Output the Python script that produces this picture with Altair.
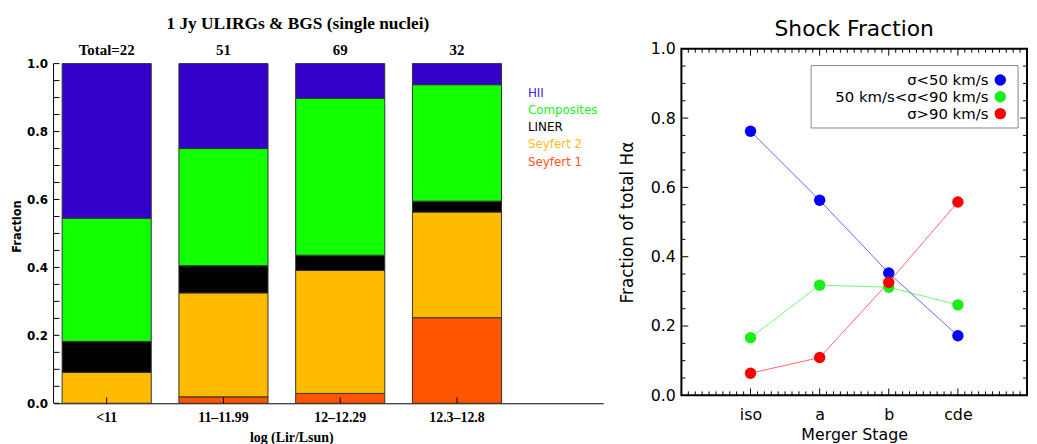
import altair as alt
import pandas as pd

# ---------------- Left panel data ----------------
bins = ["<11", "11–11.99", "12–12.29", "12.3–12.8"]
totals = ["Total=22", "51", "69", "32"]
classes = ["Seyfert 1", "Seyfert 2", "LINER", "Composites", "HII"]  # bottom -> top
class_colors = ["#FF5500", "#FFBB00", "#000000", "#11FF00", "#3300CC"]
sey1 = [0.0, 0.019, 0.029, 0.252]
sey2 = [0.091, 0.306, 0.362, 0.311]
liner = [0.091, 0.080, 0.045, 0.032]
comp = [0.363, 0.345, 0.462, 0.343]
hii = [0.455, 0.250, 0.102, 0.062]

# ---------------- Right panel data ----------------
stages = ["iso", "a", "b", "cde"]
stage_pos = [1, 2, 3, 4]
series_names = ["σ<50 km/s", "50 km/s<σ<90 km/s", "σ>90 km/s"]
series_colors = ["#0000FF", "#1AEE1A", "#FF0000"]
low_sigma = [0.762, 0.563, 0.353, 0.172]
mid_sigma = [0.166, 0.318, 0.312, 0.261]
high_sigma = [0.064, 0.109, 0.326, 0.558]

# ---------------- Left panel ----------------
LW, LH = 555, 358
L_UNIT = 343.0
LYMAX = LH / L_UNIT

rows = []
series_vals = [sey1, sey2, liner, comp, hii]
for bi, b in enumerate(bins):
    cum = 0.0
    for ci, c in enumerate(classes):
        v = series_vals[ci][bi]
        if v > 0:
            rows.append({"bin": b, "cls": c, "y0": cum, "y1": cum + v})
        cum += v
bars_df = pd.DataFrame(rows)

xscale_l = alt.Scale(domain=bins, paddingInner=0.237, paddingOuter=0.472, align=0.078)
yscale_l = alt.Scale(domain=[0, LYMAX], nice=False, zero=False)

bars = alt.Chart(bars_df).mark_bar(stroke="#333333", strokeWidth=1).encode(
    x=alt.X("bin:N", scale=xscale_l, sort=bins,
            axis=alt.Axis(title="log (Lir/Lsun)", labelAngle=0, ticks=False,
                          domainColor="black", domainWidth=1,
                          labelFont="Liberation Serif", labelFontWeight="bold",
                          labelFontSize=14, labelColor="black", labelPadding=7,
                          titleFont="Liberation Serif", titleFontWeight="bold",
                          titleFontSize=14, titleColor="black", titlePadding=7,
                          titleX=240)),
    y=alt.Y("y0:Q", scale=yscale_l,
            axis=alt.Axis(title="Fraction", domain=False, ticks=False, grid=False,
                          values=[0, 0.2, 0.4, 0.6, 0.8, 1.0], format=".1f",
                          labelFont="DejaVu Sans", labelFontWeight="bold",
                          labelFontSize=12, labelColor="black", labelPadding=6,
                          titleFont="DejaVu Sans", titleFontWeight="bold",
                          titleFontSize=11.5, titleColor="black", titlePadding=4)),
    y2="y1:Q",
    color=alt.Color("cls:N", scale=alt.Scale(domain=classes, range=class_colors), legend=None),
)

one = pd.DataFrame({"a": [0]})
yaxis_line = alt.Chart(pd.DataFrame({"y0": [0.0], "y1": [1.0]})).mark_rule(
    color="black", strokeWidth=1).encode(
    x=alt.value(0), y=alt.Y("y0:Q", scale=yscale_l), y2="y1:Q")

ltick_vals = pd.DataFrame({"y0": [i / 20 for i in range(21)]})
ltick = alt.Chart(ltick_vals).mark_rule(color="black", strokeWidth=1).encode(
    y=alt.Y("y0:Q", scale=yscale_l), x=alt.value(0), x2=alt.value(6))

bin_df = pd.DataFrame({"bin": bins, "total": totals})
xtick = alt.Chart(bin_df).mark_rule(color="black", strokeWidth=1).encode(
    x=alt.X("bin:N", scale=xscale_l, sort=bins),
    y=alt.value(LH), y2=alt.value(LH - 6))
tot_text = alt.Chart(bin_df).mark_text(
    font="Liberation Serif", fontWeight="bold", fontSize=15, baseline="middle",
    color="black").encode(
    x=alt.X("bin:N", scale=xscale_l, sort=bins),
    y=alt.value(1), text="total:N")

leg_layers = []
leg_order = list(reversed(classes))
leg_text_cols = ["#4422CC", "#22EE22", "#000000", "#FFBB22", "#FF5522"]
for i, name in enumerate(leg_order):
    leg_layers.append(alt.Chart(one).mark_text(
        font="DejaVu Sans", fontSize=12, align="left", baseline="middle",
        color=leg_text_cols[i]).encode(
        x=alt.value(479), y=alt.value(44.8 + 17.3 * i), text=alt.value(name)))

left = alt.layer(bars, yaxis_line, ltick, xtick, tot_text, *leg_layers).properties(
    width=LW, height=LH,
    title=alt.TitleParams("1 Jy ULIRGs & BGS (single nuclei)", font="Liberation Serif",
                          fontSize=17.5, fontWeight="bold", anchor="start", frame="group",
                          dx=114, offset=10, color="black"),
    view=alt.ViewBackground(stroke="transparent"),
)

# ---------------- Right panel ----------------
RW, RH = 349, 350
xscale_r = alt.Scale(domain=[0, 5], nice=False, zero=False)
yscale_r = alt.Scale(domain=[0, 1], nice=False, zero=False)

rrows = []
for si, (name, vals) in enumerate(zip(series_names, [low_sigma, mid_sigma, high_sigma])):
    for xi, v in zip(stage_pos, vals):
        rrows.append({"stage": xi, "frac": v, "series": name, "ord": si})
r_df = pd.DataFrame(rrows)

label_expr = "[''," + ",".join("'%s'" % s for s in stages) + "][datum.value]"
rcolor = alt.Color("series:N", scale=alt.Scale(domain=series_names, range=series_colors), legend=None)

lines = alt.Chart(r_df).mark_line(strokeWidth=1, opacity=0.6).encode(
    x=alt.X("stage:Q", scale=xscale_r,
            axis=alt.Axis(title="Merger Stage", values=stage_pos, labelExpr=label_expr,
                          domain=False, ticks=False, grid=False,
                          labelFont="DejaVu Sans", labelFontSize=16, labelColor="black",
                          labelPadding=11, titleFont="DejaVu Sans", titleFontSize=16,
                          titleFontWeight="normal", titleColor="black", titlePadding=5)),
    y=alt.Y("frac:Q", scale=yscale_r,
            axis=alt.Axis(title="Fraction of total Hα", values=[0, 0.2, 0.4, 0.6, 0.8, 1.0],
                          format=".1f", domain=False, ticks=False, grid=False,
                          labelFont="DejaVu Sans", labelFontSize=16, labelColor="black",
                          labelPadding=6, titleFont="DejaVu Sans", titleFontSize=17,
                          titleFontWeight="normal", titleColor="black", titlePadding=14)),
    color=rcolor,
    detail="series:N",
)
points = alt.Chart(r_df).mark_circle(size=133, opacity=1).encode(
    x=alt.X("stage:Q", scale=xscale_r),
    y=alt.Y("frac:Q", scale=yscale_r),
    color=rcolor,
    order=alt.Order("ord:Q"),
)

x_major = pd.DataFrame({"stage": [0, 1, 2, 3, 4, 5]})
x_minor = pd.DataFrame({"stage": [i / 10 for i in range(51) if i % 10]})
y_major = pd.DataFrame({"frac": [0, 0.2, 0.4, 0.6, 0.8, 1.0]})
y_minor = pd.DataFrame({"frac": [i / 20 for i in range(21) if i % 4]})

tick_layers = []
for df, ln in [(x_major, 7), (x_minor, 4)]:
    base = alt.Chart(df).mark_rule(color="black", strokeWidth=1)
    enc_x = alt.X("stage:Q", scale=xscale_r)
    tick_layers.append(base.encode(x=enc_x, y=alt.value(RH), y2=alt.value(RH - ln)))
    tick_layers.append(base.encode(x=enc_x, y=alt.value(0), y2=alt.value(ln)))
for df, ln in [(y_major, 7), (y_minor, 4)]:
    base = alt.Chart(df).mark_rule(color="black", strokeWidth=1)
    enc_y = alt.Y("frac:Q", scale=yscale_r)
    tick_layers.append(base.encode(y=enc_y, x=alt.value(0), x2=alt.value(ln)))
    tick_layers.append(base.encode(y=enc_y, x=alt.value(RW), x2=alt.value(RW - ln)))

legend_box = alt.Chart(one).mark_rect(fill="white", stroke="#888888", strokeWidth=1).encode(
    x=alt.value(131), x2=alt.value(340), y=alt.value(17), y2=alt.value(80))
rleg = [legend_box]
for i, name in enumerate(series_names):
    yy = 31.5 + 17 * i
    rleg.append(alt.Chart(one).mark_text(
        font="DejaVu Sans", fontSize=15, align="right", baseline="middle", color="black").encode(
        x=alt.value(310), y=alt.value(yy), text=alt.value(name)))
    rleg.append(alt.Chart(one).mark_circle(size=133, opacity=1, color=series_colors[i]).encode(
        x=alt.value(322), y=alt.value(yy)))

right = alt.layer(lines, *tick_layers, points, *rleg).properties(
    width=RW, height=RH,
    title=alt.TitleParams("Shock Fraction", font="DejaVu Sans", fontSize=22,
                          fontWeight="normal", anchor="middle", frame="group",
                          offset=0, color="black"),
    view=alt.ViewBackground(stroke="black", strokeWidth=2),
)

chart = alt.hconcat(left, right, spacing=13).resolve_scale(color="independent").properties(
    padding={"left": 3, "top": 5, "right": 0, "bottom": 0},
    background="white",
)

chart.save("out.html", embed_options={"renderer": "svg", "actions": False})
